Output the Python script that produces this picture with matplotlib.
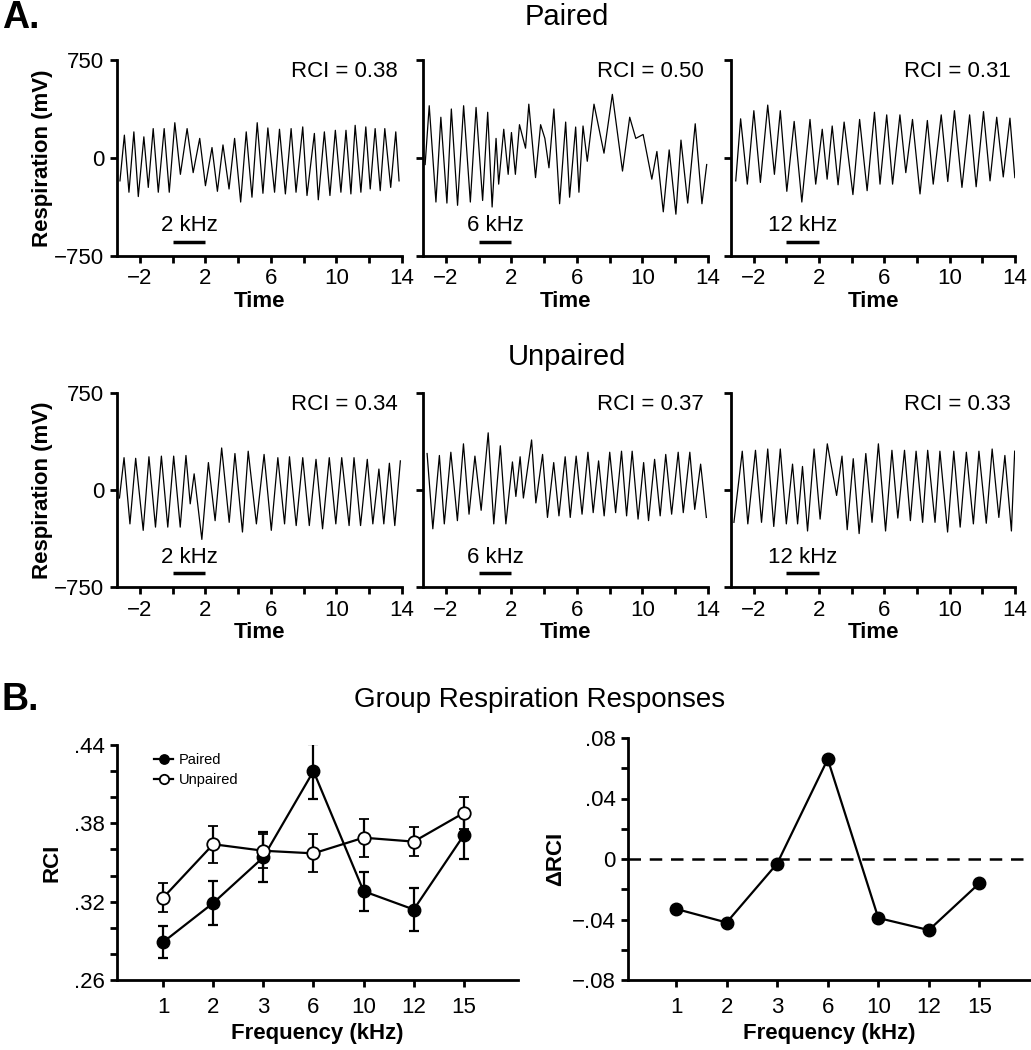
import matplotlib
matplotlib.use("Agg")
import matplotlib.pyplot as plt
from matplotlib.ticker import FixedLocator

plt.rcParams['font.family'] = ['Liberation Sans', 'DejaVu Sans']

# ---- respiration traces: alternating extrema (time, mV) ----
paired_2k_t = [-3.22, -2.95, -2.67, -2.37, -2.10, -1.76, -1.49, -1.19, -0.88, -0.52, -0.21, 0.13,
               0.47, 0.88, 1.25, 1.65, 2.00, 2.40, 2.73, 3.07, 3.44, 3.78, 4.15, 4.49, 4.84, 5.16,
               5.51, 5.81, 6.22, 6.52, 6.88, 7.23, 7.53, 7.94, 8.20, 8.65, 8.89, 9.26, 9.60, 9.93,
               10.27, 10.58, 10.88, 11.14, 11.49, 11.79, 12.06, 12.36, 12.67, 12.95, 13.31, 13.62, 13.82]
paired_2k_v = [-175, 175, -262, 200, -295, 162, -225, 225, -262, 225, -262, 270,
               -125, 225, -112, 150, -212, 80, -255, 100, -237, 150, -337, 200, -300, 270,
               -270, 230, -262, 220, -275, 225, -262, 238, -287, 188, -320, 200, -287, 212,
               -262, 212, -275, 250, -262, 238, -237, 225, -250, 225, -225, 200, -175]

paired_6k_t = [-3.27, -3.02, -2.61, -2.31, -1.94, -1.67, -1.29, -0.92, -0.51, -0.16, 0.24, 0.55,
               0.82, 1.06, 1.22, 1.53, 1.80, 2.00, 2.24, 2.49, 2.86, 3.06, 3.47, 3.78, 4.04, 4.29,
               4.59, 4.94, 5.31, 5.55, 5.92, 6.12, 6.37, 6.63, 7.04, 7.65, 8.16, 8.78, 9.22, 9.59,
               10.04, 10.57, 10.88, 11.27, 11.63, 12.04, 12.35, 12.76, 13.22, 13.63, 13.92]
paired_6k_v = [-50, 400, -337, 312, -345, 375, -362, 400, -337, 387, -325, 350,
               -375, 150, -200, 220, -125, 195, -125, 255, 75, 412, -150, 255, 150, -75,
               375, -350, 275, -300, 237, -262, 245, -25, 412, 37, 487, -100, 312, 150,
               180, -162, 50, -412, 62, -430, 137, -345, 262, -350, -50]

paired_12k_t = [-3.11, -2.81, -2.40, -2.00, -1.60, -1.15, -0.74, -0.38, 0.02, 0.47, 0.94, 1.44,
                1.79, 2.19, 2.49, 2.80, 3.16, 3.53, 4.07, 4.48, 4.94, 5.39, 5.73, 6.14, 6.50, 6.95,
                7.31, 7.72, 8.18, 8.63, 8.99, 9.48, 9.88, 10.29, 10.75, 11.22, 11.62, 12.07, 12.47,
                12.88, 13.28, 13.69, 13.99]
paired_12k_v = [-175, 300, -200, 362, -187, 405, -125, 362, -255, 280, -337, 295,
                -200, 220, -162, 245, -205, 275, -280, 295, -250, 350, -200, 330, -200, 330,
                -112, 295, -275, 287, -200, 330, -180, 362, -225, 330, -220, 355, -175,
                312, -145, 305, -150]

unpaired_2k_t = [-3.25, -2.97, -2.61, -2.26, -1.80, -1.45, -1.05, -0.69, -0.30, 0.06, 0.46, 0.81,
                 1.07, 1.31, 1.78, 2.18, 2.59, 2.99, 3.45, 3.80, 4.26, 4.61, 5.11, 5.58, 6.02, 6.42,
                 6.83, 7.13, 7.54, 7.94, 8.34, 8.75, 9.15, 9.56, 9.96, 10.32, 10.77, 11.07, 11.47,
                 11.88, 12.22, 12.59, 12.89, 13.23, 13.56, 13.90]
unpaired_2k_v = [-62, 250, -262, 245, -312, 257, -287, 262, -287, 262, -287, 267,
                 -107, 125, -382, 212, -237, 325, -250, 282, -325, 300, -262, 275, -312, 250,
                 -262, 257, -275, 250, -275, 237, -300, 250, -262, 250, -275, 250, -275,
                 237, -262, 162, -262, 207, -275, 225]

unpaired_6k_t = [-3.15, -2.80, -2.40, -2.10, -1.70, -1.30, -0.93, -0.59, -0.23, 0.15, 0.58, 0.92,
                 1.32, 1.66, 2.06, 2.27, 2.53, 2.73, 3.23, 3.49, 3.90, 4.20, 4.58, 4.90, 5.28, 5.59,
                 5.95, 6.31, 6.67, 6.99, 7.32, 7.66, 8.00, 8.36, 8.72, 9.03, 9.37, 9.73, 10.07,
                 10.37, 10.74, 11.08, 11.42, 11.78, 12.18, 12.49, 12.89, 13.19, 13.55, 13.90]
unpaired_6k_v = [282, -300, 267, -262, 292, -237, 357, -187, 262, -157, 442, -262,
                 342, -262, 217, -50, 257, -62, 387, -100, 275, -212, 212, -200, 257, -212,
                 262, -187, 292, -175, 225, -200, 292, -175, 300, -200, 300, -225, 212,
                 -237, 237, -200, 275, -187, 292, -175, 292, -150, 200, -212]

unpaired_12k_t = [-3.22, -2.71, -2.37, -1.90, -1.53, -1.15, -0.78, -0.38, -0.01, 0.37, 0.68, 0.98,
                  1.29, 1.69, 2.06, 2.50, 3.07, 3.40, 3.72, 4.09, 4.45, 4.86, 5.24, 5.63, 6.07, 6.46,
                  6.82, 7.23, 7.59, 7.94, 8.34, 8.65, 9.10, 9.40, 9.87, 10.25, 10.64, 11.02, 11.45,
                  11.79, 12.24, 12.60, 13.01, 13.38, 13.78, 13.98]
unpaired_12k_v = [-250, 300, -262, 307, -250, 317, -282, 317, -262, 200, -262, 182,
                  -317, 317, -225, 357, -42, 262, -307, 242, -337, 282, -250, 357, -317, 307,
                  -217, 307, -237, 300, -250, 307, -250, 300, -325, 300, -287, 292, -262,
                  300, -257, 317, -212, 267, -317, 300]

paired_rci = ["0.38", "0.50", "0.31"]
unpaired_rci = ["0.34", "0.37", "0.33"]
tone_labels = ["2 kHz", "6 kHz", "12 kHz"]

# ---- group data ----
freqs = ["1", "2", "3", "6", "10", "12", "15"]
rci_paired = [0.289, 0.319, 0.354, 0.420, 0.328, 0.314, 0.371]
rci_paired_err = [0.0125, 0.017, 0.019, 0.021, 0.015, 0.0165, 0.018]
rci_unpaired = [0.323, 0.364, 0.359, 0.357, 0.369, 0.366, 0.388]
rci_unpaired_err = [0.011, 0.014, 0.013, 0.0145, 0.0145, 0.011, 0.0125]
delta_rci = [-0.033, -0.042, -0.003, 0.066, -0.039, -0.047, -0.016]

W, H = 1031, 1050
FS = 16
fig = plt.figure(figsize=(W / 100, H / 100), dpi=100)


def px_axes(x0, y0, x1, y1):
    return fig.add_axes([x0 / W, 1 - y1 / H, (x1 - x0) / W, (y1 - y0) / H])


def style(ax):
    for s in ['top', 'right']:
        ax.spines[s].set_visible(False)
    for s in ['left', 'bottom']:
        ax.spines[s].set_linewidth(2.0)
    ax.tick_params(which='both', direction='out', length=5, width=2.0, labelsize=FS, pad=4)


def trace_panel(ax, t, v, rci, tone, first):
    style(ax)
    ax.plot(t, v, color='black', lw=0.9)
    ax.set_xlim(-3.4, 14)
    ax.set_ylim(-750, 750)
    ax.xaxis.set_major_locator(FixedLocator([-2, 2, 6, 10, 14]))
    ax.xaxis.set_minor_locator(FixedLocator([0, 4, 8, 12]))
    ax.set_yticks([-750, 0, 750])
    if first:
        ax.set_yticklabels(['\u2212750', '0', '750'])
        ax.set_ylabel('Respiration (mV)', fontsize=FS, fontweight='bold', labelpad=1)
    else:
        ax.set_yticklabels(['', '', ''])
    ax.set_xlabel('Time', fontsize=FS, fontweight='bold', labelpad=1)
    ax.text(0.985, 0.94, 'RCI = ' + rci, transform=ax.transAxes, ha='right', va='center', fontsize=FS)
    ax.plot([0, 2], [-640, -640], color='black', lw=2.5, solid_capstyle='butt')
    ax.text(1, -600, tone, ha='center', va='bottom', fontsize=FS)


cols = [(117, 402), (423, 708), (731, 1015)]
top_traces = [(paired_2k_t, paired_2k_v), (paired_6k_t, paired_6k_v), (paired_12k_t, paired_12k_v)]
bot_traces = [(unpaired_2k_t, unpaired_2k_v), (unpaired_6k_t, unpaired_6k_v), (unpaired_12k_t, unpaired_12k_v)]

for i, (x0, x1) in enumerate(cols):
    ax = px_axes(x0, 60, x1, 256)
    trace_panel(ax, top_traces[i][0], top_traces[i][1], paired_rci[i], tone_labels[i], i == 0)
    ax = px_axes(x0, 393, x1, 587)
    trace_panel(ax, bot_traces[i][0], bot_traces[i][1], unpaired_rci[i], tone_labels[i], i == 0)

fig.text(567 / W, 1 - 17 / H, 'Paired', ha='center', va='center', fontsize=21)
fig.text(567 / W, 1 - 357 / H, 'Unpaired', ha='center', va='center', fontsize=21)
fig.text(2 / W, 1 - 18 / H, 'A.', ha='left', va='center', fontsize=27, fontweight='bold')
fig.text(2 / W, 1 - 700 / H, 'B.', ha='left', va='center', fontsize=27, fontweight='bold')
fig.text(540 / W, 1 - 700 / H, 'Group Respiration Responses', ha='center', va='center', fontsize=20)

x = list(range(1, len(freqs) + 1))

# group RCI
ax = px_axes(117, 745, 518, 980)
style(ax)
ax.errorbar(x, rci_paired, yerr=rci_paired_err, color='black', lw=1.6, marker='o', ms=9,
            mfc='black', mec='black', capsize=3.5, capthick=1.6, elinewidth=1.6, label='Paired', zorder=3)
ax.errorbar(x, rci_unpaired, yerr=rci_unpaired_err, color='black', lw=1.6, marker='o', ms=9,
            mfc='white', mec='black', mew=1.3, capsize=3.5, capthick=1.6, elinewidth=1.6,
            label='Unpaired', zorder=4)
ax.set_xlim(0.08, 8.08)
ax.set_ylim(0.26, 0.44)
ax.set_xticks(x)
ax.set_xticklabels(freqs)
ax.tick_params(axis='x', pad=7)
ax.yaxis.set_major_locator(FixedLocator([0.26, 0.32, 0.38, 0.44]))
ax.yaxis.set_minor_locator(FixedLocator([0.28, 0.30, 0.34, 0.36, 0.40, 0.42]))
ax.set_yticklabels(['.26', '.32', '.38', '.44'])
ax.set_ylabel('RCI', fontsize=FS, fontweight='bold', labelpad=8)
ax.set_xlabel('Frequency (kHz)', fontsize=FS, fontweight='bold', labelpad=4)
handles, labels = ax.get_legend_handles_labels()
ax.legend([h[0] for h in handles], labels, loc='upper left', bbox_to_anchor=(0.06, 1.02),
          frameon=False, fontsize=10.5, handlelength=1.3, handletextpad=0.4, labelspacing=0.4,
          markerscale=0.75)

# difference
ax = px_axes(628, 738, 1030, 980)
style(ax)
ax.axhline(0, color='black', lw=1.8, dashes=(5, 3.5))
ax.plot(x, delta_rci, color='black', lw=1.6, marker='o', ms=9, zorder=3)
ax.set_xlim(0.05, 8.0)
ax.set_ylim(-0.08, 0.08)
ax.set_xticks(x)
ax.set_xticklabels(freqs)
ax.tick_params(axis='x', pad=7)
ax.yaxis.set_major_locator(FixedLocator([-0.08, -0.04, 0, 0.04, 0.08]))
ax.yaxis.set_minor_locator(FixedLocator([-0.06, -0.02, 0.02, 0.06]))
ax.set_yticklabels(['\u2212.08', '\u2212.04', '0', '.04', '.08'])
ax.set_ylabel('\u0394RCI', fontsize=FS, fontweight='bold', labelpad=4)
ax.set_xlabel('Frequency (kHz)', fontsize=FS, fontweight='bold', labelpad=4)

fig.savefig('out.png', dpi=100)
